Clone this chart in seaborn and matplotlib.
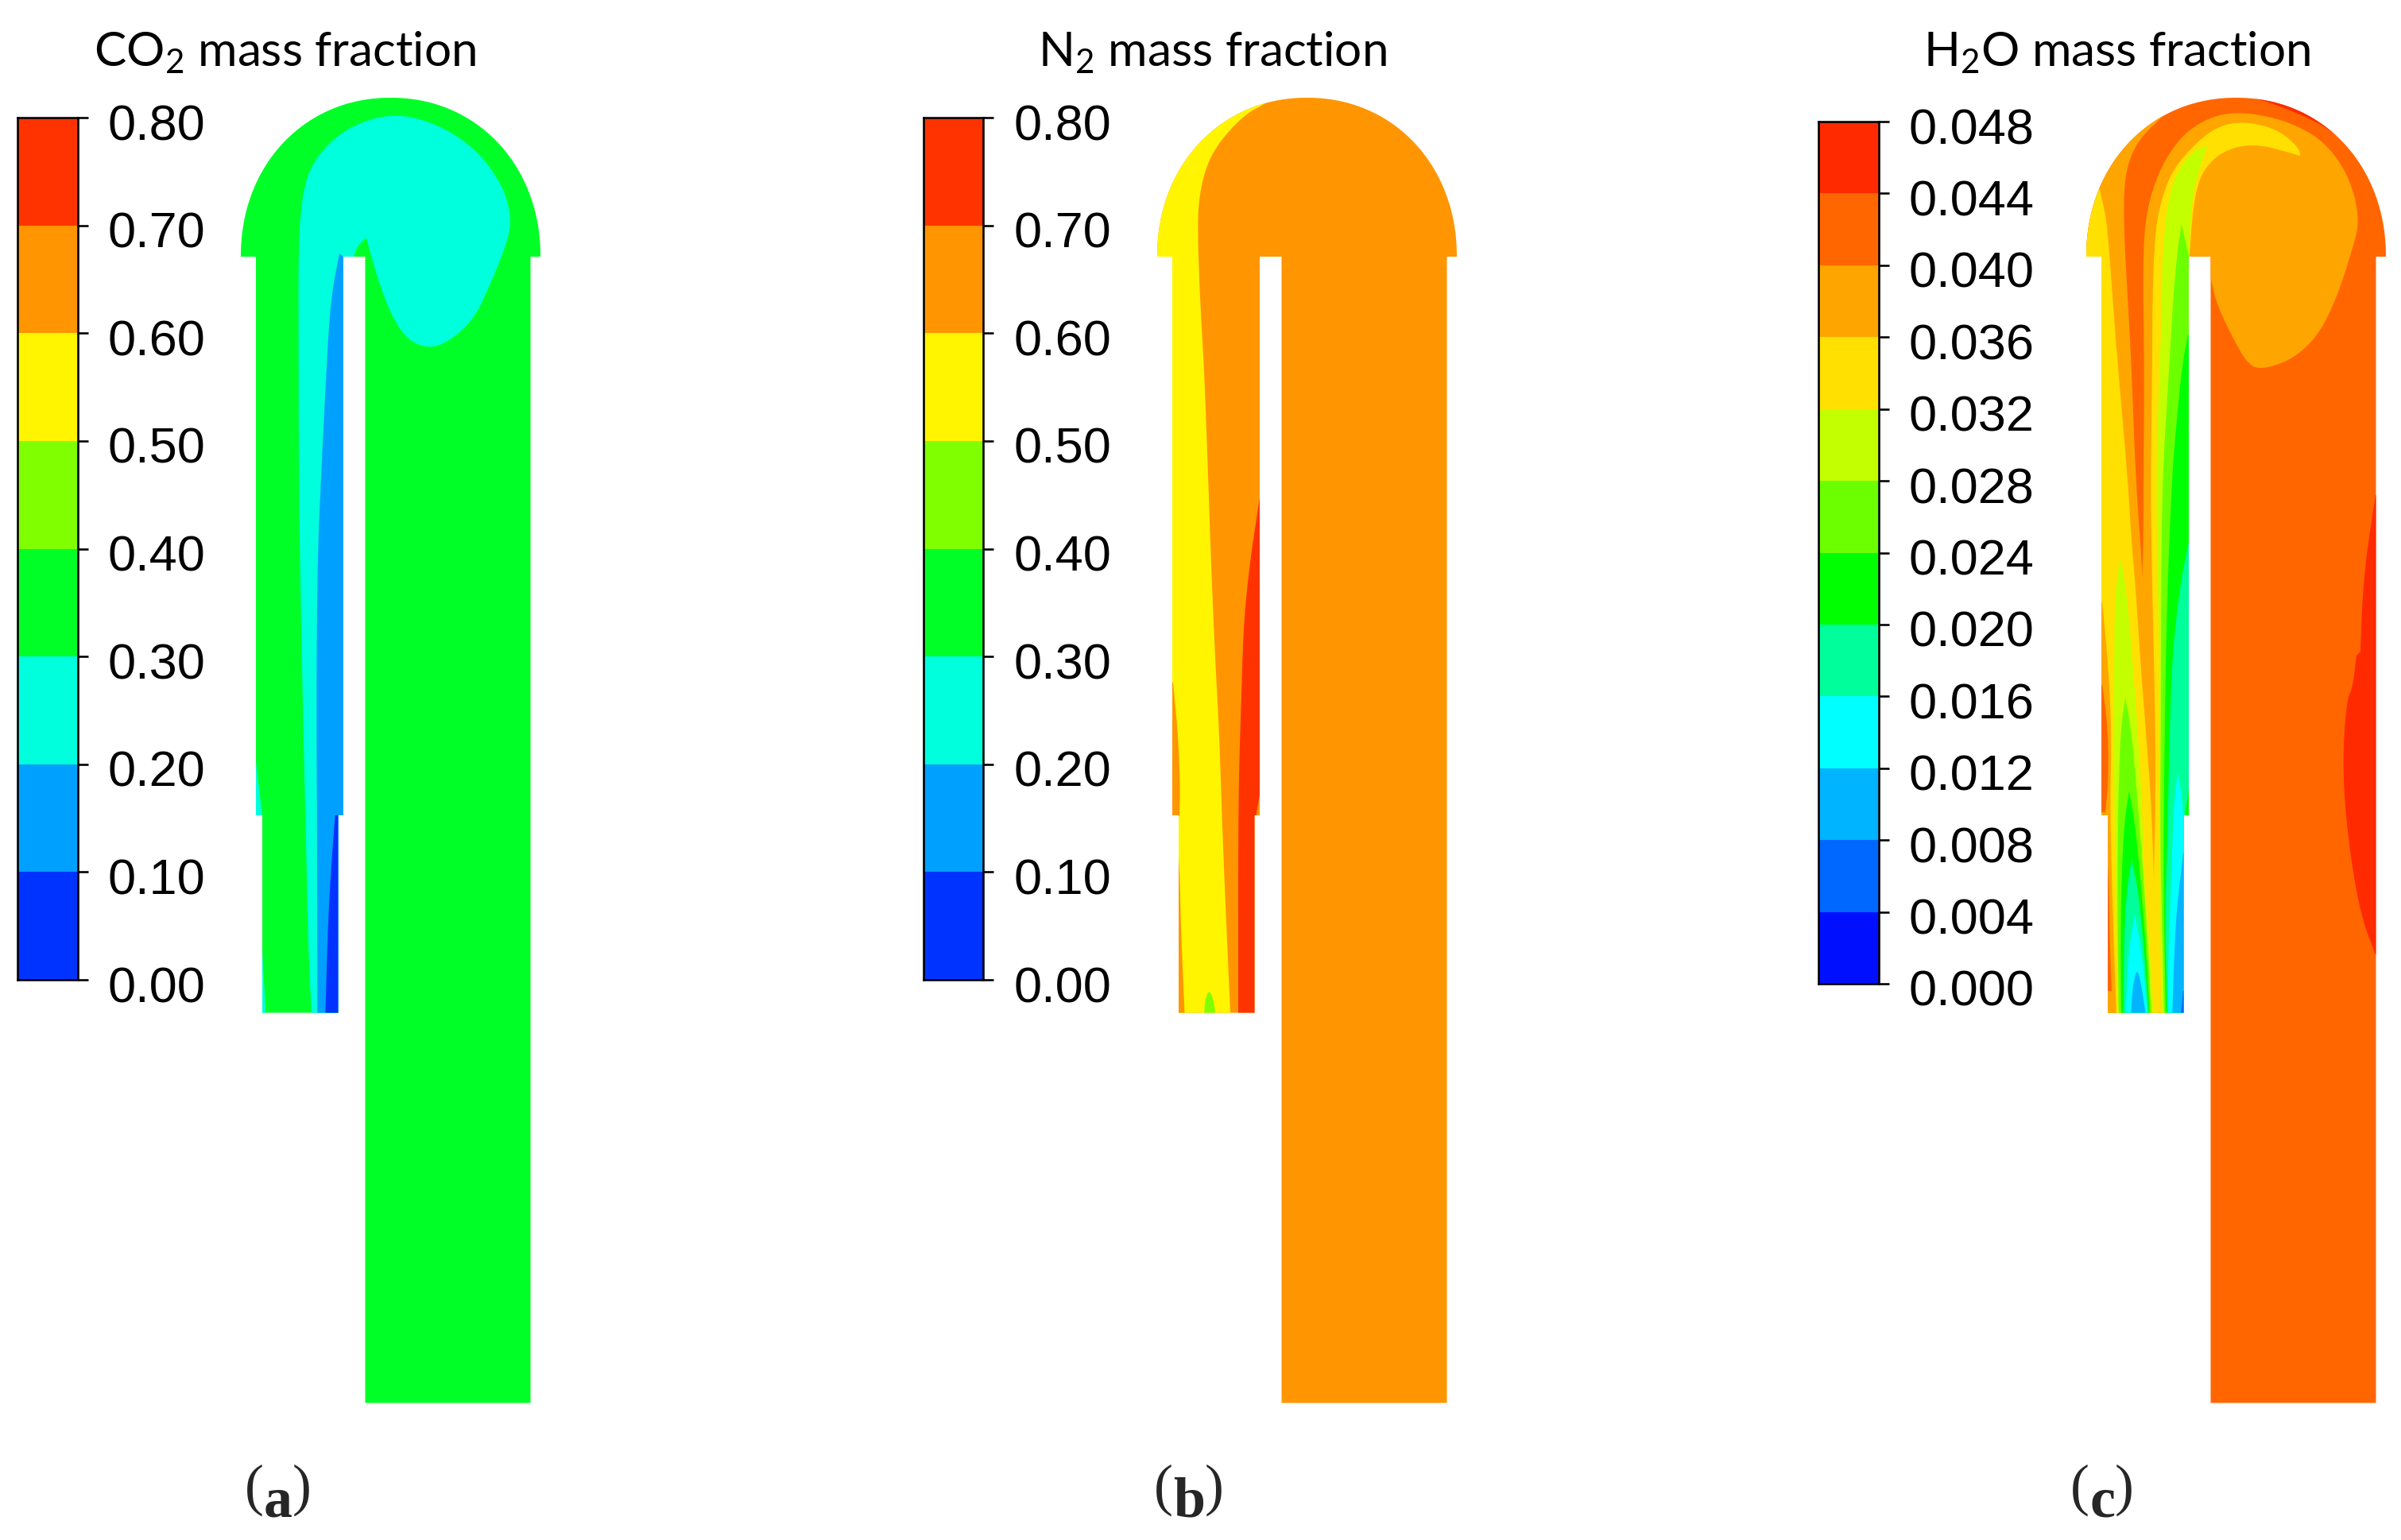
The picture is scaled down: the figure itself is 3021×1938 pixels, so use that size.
import numpy as np
import seaborn as sns
import matplotlib.pyplot as plt
from matplotlib.colors import ListedColormap
from matplotlib.path import Path
from matplotlib.transforms import ScaledTranslation

# colour bars
co2_ticks = ['0.00', '0.10', '0.20', '0.30', '0.40', '0.50', '0.60', '0.70', '0.80']
n2_ticks = co2_ticks
h2o_ticks = ['0.000', '0.004', '0.008', '0.012', '0.016', '0.020', '0.024',
             '0.028', '0.032', '0.036', '0.040', '0.044', '0.048']
bar8_colors = ['#0033ff', '#00a0ff', '#00ffdc', '#00ff26', '#80ff00', '#fff500', '#ff9500', '#ff3300']
bar12_colors = ['#0010ff', '#0068ff', '#00b4ff', '#00ffff', '#00ff9a', '#00ff00',
                '#6cff00', '#c4ff00', '#ffe000', '#ffa500', '#ff6600', '#ff2a00']

titles = ['CO$_2$ mass fraction', 'N$_2$ mass fraction', 'H$_2$O mass fraction']
captions = ['a', 'b', 'c']

# contour outlines, pixels, third item = sharp corner
a_cyan = [(392.7, 1290, 1), (388, 1197), (385, 1059), (381.7, 921), (378, 738), (376, 600), (375.6, 421),
          (375.6, 295), (383, 227), (404, 189), (441, 158), (496, 142), (551, 156), (601, 189), (634, 236),
          (644, 278), (636, 311), (615, 362), (597, 400), (569, 427), (542, 439), (514, 429), (494, 400),
          (477.5, 358), (464, 311), (461, 299, 1), (450, 309), (445, 323, 1), (445, 1290, 1)]
a_blue = [(427, 319, 1), (415.5, 379), (408.6, 505), (404, 600), (399.5, 700), (398, 875), (399, 1059),
          (399.3, 1290, 1), (445, 1290, 1), (445, 340, 1), (432, 323, 1)]
a_deep = [(421.7, 1026, 1), (418, 1073), (413, 1151), (409, 1290, 1), (440, 1290, 1), (440, 1026, 1)]
a_sliver1 = [(322, 958, 1), (330, 1027, 1), (315, 1027, 1), (315, 958, 1)]
a_sliver2 = [(330, 1197, 1), (335, 1285, 1), (325, 1285, 1), (325, 1197, 1)]

b_yellow = [(450, 118, 1), (439.7, 130.5), (414.5, 143), (382, 177), (364, 210), (355, 252.5), (354, 295),
            (357, 379), (362, 463), (366, 568), (371, 715), (376, 830), (381, 921), (384, 1013),
            (387.5, 1105), (391.5, 1197), (395.5, 1285, 1), (295, 1285, 1), (295, 118, 1)]
b_sliver1 = [(323, 859, 1), (329, 921), (332, 990), (331, 1027, 1), (315, 1027, 1), (315, 859, 1)]
b_sliver2 = [(330, 1080, 1), (331.5, 1105), (333, 1174), (338, 1285, 1), (325, 1285, 1), (325, 1080, 1)]
b_red = [(432.5, 623, 1), (424, 678), (419, 715), (414, 761), (411, 807), (409, 875), (406, 967), (405, 1059),
         (405, 1285, 1), (430, 1285, 1), (430, 1026, 1), (427.5, 1026, 1), (432.5, 997, 1), (436, 997, 1),
         (436, 623, 1)]
b_blob = [(361.5, 1280, 1), (363.5, 1256.5), (368.5, 1246), (373.5, 1256.5), (377, 1280, 1)]

c_outer = [(405, 135, 1), (401, 145), (371, 173), (356, 203), (350, 240), (351, 300), (353, 337), (360, 463),
           (365, 600), (373, 710), (373, 728, 1), (430, 1285, 1), (300, 1285, 1), (290, 100, 1), (405, 100, 1)]
c_inner = [(373, 728, 1), (374.7, 692), (375, 600), (376, 463), (374, 333), (378, 267), (395, 213), (421, 173),
           (448, 153), (475, 143), (505, 142), (538, 148), (565, 157), (598, 175), (625, 207), (641, 245), (646, 282),
           (638.5, 311), (620, 370), (596, 421), (563, 452), (525, 465), (506, 459), (483, 417), (466, 379),
           (460, 351, 1), (445, 351, 1), (445, 1285, 1), (373, 1285, 1)]
c_yellow_l = [(319, 235, 1), (328, 273), (332, 317), (338, 400), (343, 463), (355, 600), (360, 683), (365, 738),
              (371, 830), (378, 921), (385, 1013), (388, 1105), (391, 1197), (396, 1285, 1), (300, 1285, 1),
              (300, 235, 1)]
c_left_orange = [(323, 758, 1), (330, 830), (335, 921), (333, 1013), (335, 1105), (341, 1285, 1), (310, 1285, 1),
                 (310, 758, 1)]
c_left_red1 = [(323, 862, 1), (330, 912), (331, 981), (327, 1022, 1), (315, 1022, 1), (315, 862, 1)]
c_left_red2 = [(330, 1090, 1), (331, 1105), (333, 1197), (335, 1247, 1), (325, 1247, 1), (325, 1090, 1)]
c_yellow_r = [(572, 196, 1), (551, 190), (525, 183), (498, 183), (471, 193), (451, 213), (441, 240), (436, 277),
              (433, 323, 1), (445, 323, 1), (445, 1285, 1), (388, 1285, 1), (388, 1105, 1), (390, 1013), (390, 921),
              (388, 830), (385, 692), (384, 600), (386, 463), (386, 400), (388, 317), (393, 267), (408, 220),
              (431, 190), (461, 163), (491, 153), (525, 157), (551, 168), (571, 187)]
c_lime_r = [(455, 183, 1), (447, 207), (437, 243), (433, 300), (432.5, 323, 1), (445, 323, 1), (445, 1285, 1),
            (399, 1285, 1), (396, 1197), (395, 1059), (395, 967), (395, 830), (393, 738), (391, 600), (395, 463),
            (398, 400), (398, 367), (400, 300), (408, 240), (421, 210), (438, 190)]
c_ygreen_r = [(423, 282, 1), (418, 313), (413, 367), (411, 400), (405, 500), (399, 600), (397, 738), (397, 875),
              (396, 1059), (398, 1151), (401, 1285, 1), (445, 1285, 1), (445, 340, 1), (433, 325, 1), (428, 305)]
c_green_r = [(431, 421, 1), (423, 463), (414, 560), (411, 600), (406, 715), (403, 830), (401, 967), (400, 1105),
             (403, 1285, 1), (445, 1285, 1), (445, 421, 1)]
c_mint_r = [(433, 678, 1), (425, 715), (418, 761), (411, 830), (408, 921), (405, 1059), (402, 1151), (405, 1285, 1),
            (445, 1285, 1), (445, 678, 1)]
c_cyan_r = [(418, 972, 1), (413, 1013), (410, 1105), (406, 1197), (406, 1285, 1), (440, 1285, 1), (440, 1030, 1),
            (425, 1026, 1), (423, 1000)]
c_sky_r = [(425, 1073, 1), (416, 1151), (413, 1220), (411, 1285, 1), (440, 1285, 1), (440, 1073, 1)]
c_blue_r = [(425, 1247, 1), (421, 1285, 1), (440, 1285, 1), (440, 1247, 1)]
c_shoulder = [(433, 985, 1), (427, 1026, 1), (440, 1030, 1), (440, 985, 1)]
c_f1 = [(346, 701, 1), (340, 738), (338, 807), (338, 1013), (341, 1151), (343, 1285, 1), (388, 1285, 1), (383, 1197),
        (376, 1105), (373, 1013), (368, 921), (361, 830), (353, 738)]
c_f2 = [(352, 878, 1), (346, 921), (343, 1013), (342, 1151), (344, 1285, 1), (385, 1285, 1), (381, 1197), (375, 1105),
        (368, 1013), (360, 921)]
c_f3 = [(357, 995, 1), (350, 1041), (346, 1151), (347, 1285, 1), (383, 1285, 1), (380, 1220), (373, 1128), (365, 1041)]
c_f4 = [(360, 1081, 1), (353, 1128), (350, 1197), (350, 1285, 1), (382, 1285, 1), (376, 1197), (368, 1119)]
c_f5 = [(364, 1151, 1), (356, 1197), (352, 1285, 1), (381, 1285, 1), (373, 1197)]
c_f6 = [(367, 1217), (361, 1243), (359, 1285, 1), (379, 1285, 1), (373, 1243)]
c_wall_red = [(667, 623, 1), (655, 701), (650, 761), (648, 820, 1), (643, 825, 1), (638, 866), (631, 880), (626, 944),
              (628, 1013), (638, 1096), (651, 1160), (667, 1201, 1), (690, 1201, 1), (690, 623, 1)]
c_top_red = [(511, 123, 1), (531, 128), (565, 141), (598, 156), (625, 176, 1), (640, 110, 1), (511, 100, 1)]

panel_shift = [0, 1153, 2322]
panel_base = ['#00ff26', '#ff9500', '#ff6600']
panel_layers = [
    [('#00ffdc', a_cyan), ('#00a0ff', a_blue), ('#0033ff', a_deep), ('#00ffdc', a_sliver1), ('#00ffdc', a_sliver2)],
    [('#fff500', b_yellow), ('#ff9500', b_sliver1), ('#ff9500', b_sliver2), ('#ff3300', b_red), ('#80ff00', b_blob)],
    [('#ffa500', c_outer), ('#ffa500', c_inner), ('#ffe000', c_yellow_l), ('#ffa500', c_left_orange),
     ('#ff6600', c_left_red1), ('#ff6600', c_left_red2), ('#ffe000', c_yellow_r), ('#c4ff00', c_lime_r),
     ('#6cff00', c_ygreen_r), ('#00ff00', c_green_r), ('#00ff9a', c_mint_r), ('#00ffff', c_cyan_r),
     ('#00b4ff', c_sky_r), ('#0068ff', c_blue_r), ('#00ff00', c_shoulder),
     ('#c4ff00', c_f1), ('#6cff00', c_f2), ('#00ff00', c_f3), ('#00ff9a', c_f4), ('#00ffff', c_f5), ('#00b4ff', c_f6),
     ('#ff2a00', c_wall_red), ('#ff2a00', c_top_red)],
]

W, H = 3021, 1938
PX = 0.72  # px to pt at dpi 100

sns.set_theme(style='white')
plt.rcParams['font.family'] = ['Lato']
plt.rcParams['mathtext.default'] = 'regular'


def smooth(outline, n=3):
    # corner cutting, a doubled point stays sharp
    pts = []
    for p in outline:
        pts.append(p[:2])
        if len(p) == 3:
            pts.append(p[:2])
    pts = np.array(pts, dtype=float)
    for _ in range(n):
        nxt = np.roll(pts, -1, axis=0)
        q = 0.75 * pts + 0.25 * nxt
        r = 0.25 * pts + 0.75 * nxt
        pts = np.empty((len(q) * 2, 2))
        pts[0::2] = q
        pts[1::2] = r
    return pts


def domain(shift):
    # the dome is a bit fuller than an ellipse
    t = np.linspace(np.pi, 0, 160)
    c, s = np.cos(t), np.sin(t)
    arc = np.column_stack([491.5 + 188.5 * np.sign(c) * np.abs(c) ** (2 / 2.08), 323 - 200 * s ** (2 / 2.08)])
    rest = np.array([(667.5, 323), (667.5, 1765.5), (459.5, 1765.5), (459.5, 323), (432, 323), (432, 1026),
                     (425.5, 1026), (425.5, 1274.5), (330, 1274.5), (330, 1026), (322, 1026), (322, 323)])
    v = np.vstack([arc, rest])
    v[:, 0] += shift
    return v


def colorbar(fig, ticks, colors, left, right, top, bottom):
    cax = fig.add_axes([left / W, 1 - bottom / H, (right - left) / W, (bottom - top) / H])
    n = len(colors)
    values = np.arange(n)[::-1].reshape(-1, 1)
    sns.heatmap(values, ax=cax, cmap=ListedColormap(colors), cbar=False, vmin=-0.5, vmax=n - 0.5,
                xticklabels=False, yticklabels=False)
    cax.set_yticks(np.arange(n + 1))
    cax.set_yticklabels(ticks[::-1], fontsize=63 * PX, family='Liberation Sans', rotation=0)
    cax.yaxis.tick_right()
    cax.tick_params(axis='y', length=13 * PX, width=2.6 * PX, pad=25 * PX, color='black', labelcolor='black', right=True)
    offset = ScaledTranslation(0, -5 / 100, fig.dpi_scale_trans)
    for lab in cax.get_yticklabels():
        lab.set_transform(lab.get_transform() + offset)
    for s in cax.spines.values():
        s.set_visible(True)
        s.set_color('black')
        s.set_linewidth(2.6 * PX)


fig = plt.figure(figsize=(W / 100, H / 100), dpi=100, facecolor='white')
ax = fig.add_axes([0, 0, 1, 1])
ax.set_xlim(0, W)
ax.set_ylim(H, 0)
ax.axis('off')

for shift, base, layers in zip(panel_shift, panel_base, panel_layers):
    outline = domain(shift)
    ax.fill(outline[:, 0], outline[:, 1], color=base, lw=0)
    clip = Path(np.vstack([outline, outline[0]]), closed=True)
    for color, shape in layers:
        pts = smooth(shape)
        for poly in ax.fill(pts[:, 0] + shift, pts[:, 1], color=color, lw=0):
            poly.set_clip_path(clip, ax.transData)

colorbar(fig, co2_ticks, bar8_colors, 22, 98, 148, 1233)
colorbar(fig, n2_ticks, bar8_colors, 1162, 1237, 148, 1233)
colorbar(fig, h2o_ticks, bar12_colors, 2288, 2364, 153, 1238)

title_x = [118, 1306, 2420]
for x, t in zip(title_x, titles):
    ax.text(x, 84, t, fontsize=60.2 * PX, ha='left', va='baseline', color='black')

caption_x = [308, 1452, 2605]
for x, c in zip(caption_x, captions):
    left = ax.text(x, 1893, '(', fontsize=72 * PX, family='Liberation Serif', va='baseline')
    ax.annotate(c, xy=(1, 0), xycoords=left, fontsize=72 * PX, family='Liberation Serif', weight='bold',
                va='baseline', ha='left', annotation_clip=False)
    width = {'a': 36, 'b': 40, 'c': 32}[c]
    ax.text(x + 24 + width, 1893, ')', fontsize=72 * PX, family='Liberation Serif', va='baseline')

fig.savefig('out.png', dpi=100)
